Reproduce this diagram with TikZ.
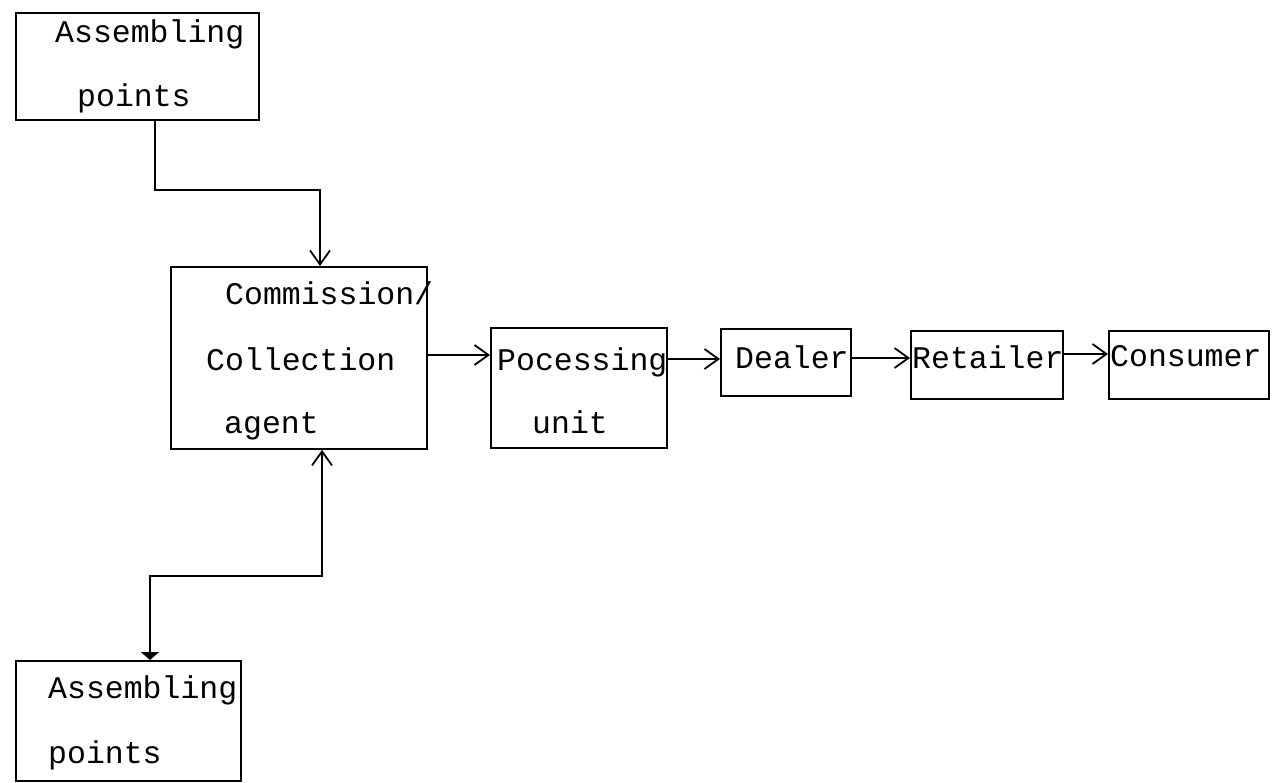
\documentclass[tikz,border=0pt]{standalone}
\usepackage{fontspec}
\setmonofont{Liberation Mono}
\usetikzlibrary{arrows.meta}
\begin{document}
\begin{tikzpicture}[x=1pt,y=-1pt,
  box/.style={draw, line width=1.9pt, inner sep=0pt, anchor=north west},
  lbl/.style={font=\ttfamily\fontsize{31.5}{36}\selectfont, anchor=base west, inner sep=0pt},
  link/.style={line width=1.8pt, -{Straight Barb[length=14pt,width=20pt,line width=1.8pt]}},
  twoway/.style={line width=1.8pt, {Triangle[length=8pt,width=18pt]}-{Straight Barb[length=14pt,width=20pt,line width=1.8pt]}}]
  % page
  \fill[white] (0,0) rectangle (1281,783);
  \useasboundingbox (0,0) rectangle (1281,783);

  % boxes
  \node[box, minimum width=243pt, minimum height=107pt] (ap1) at (15,12) {};
  \node[box, minimum width=256pt, minimum height=182pt] (cca) at (170,266) {};
  \node[box, minimum width=176pt, minimum height=120pt] (pu)  at (490,327) {};
  \node[box, minimum width=130pt, minimum height=67pt]  (dl)  at (720,328) {};
  \node[box, minimum width=152pt, minimum height=68pt]  (rt)  at (910,330) {};
  \node[box, minimum width=160pt, minimum height=68pt]  (cs)  at (1108,330) {};
  \node[box, minimum width=225pt, minimum height=120pt] (ap2) at (15,660) {};

  % box texts
  \node[lbl] (t1a) at (55,43)   {Assembling};
  \node[lbl] (t1b) at (77,107)  {points};
  \node[lbl] (t2a) at (225,305) {Commission/};
  \node[lbl] (t2b) at (206,370) {Collection};
  \node[lbl] (t2c) at (224,433) {agent};
  \node[lbl] (t3a) at (497,370) {Pocessing};
  \node[lbl] (t3b) at (532,433) {unit};
  \node[lbl] (t4)  at (735,368) {Dealer};
  \node[lbl] (t5)  at (912,368) {Retailer};
  \node[lbl] (t6)  at (1110,366) {Consumer};
  \node[lbl] (t7a) at (48,698)  {Assembling};
  \node[lbl] (t7b) at (48,763)  {points};

  % upper assembling points to the agent
  \coordinate (k1) at (320,190);
  \draw[link] ([xshift=140pt]ap1.south west) |- (k1) -- (k1 |- cca.north);

  % lower assembling points, both ways
  \coordinate (k2) at (322,576);
  \draw[twoway] ([xshift=135pt]ap2.north west) |- (k2) -- (k2 |- cca.south);

  % chain to the consumer
  \draw[link] (cca.east |- 0,355) -- (pu.west |- 0,355);
  \draw[link] (pu.east |- 0,359) -- (dl.west |- 0,359);
  \draw[link] (dl.east |- 0,358) -- (rt.west |- 0,358);
  \draw[link] (rt.east |- 0,354) -- (cs.west |- 0,354);
\end{tikzpicture}
\end{document}
